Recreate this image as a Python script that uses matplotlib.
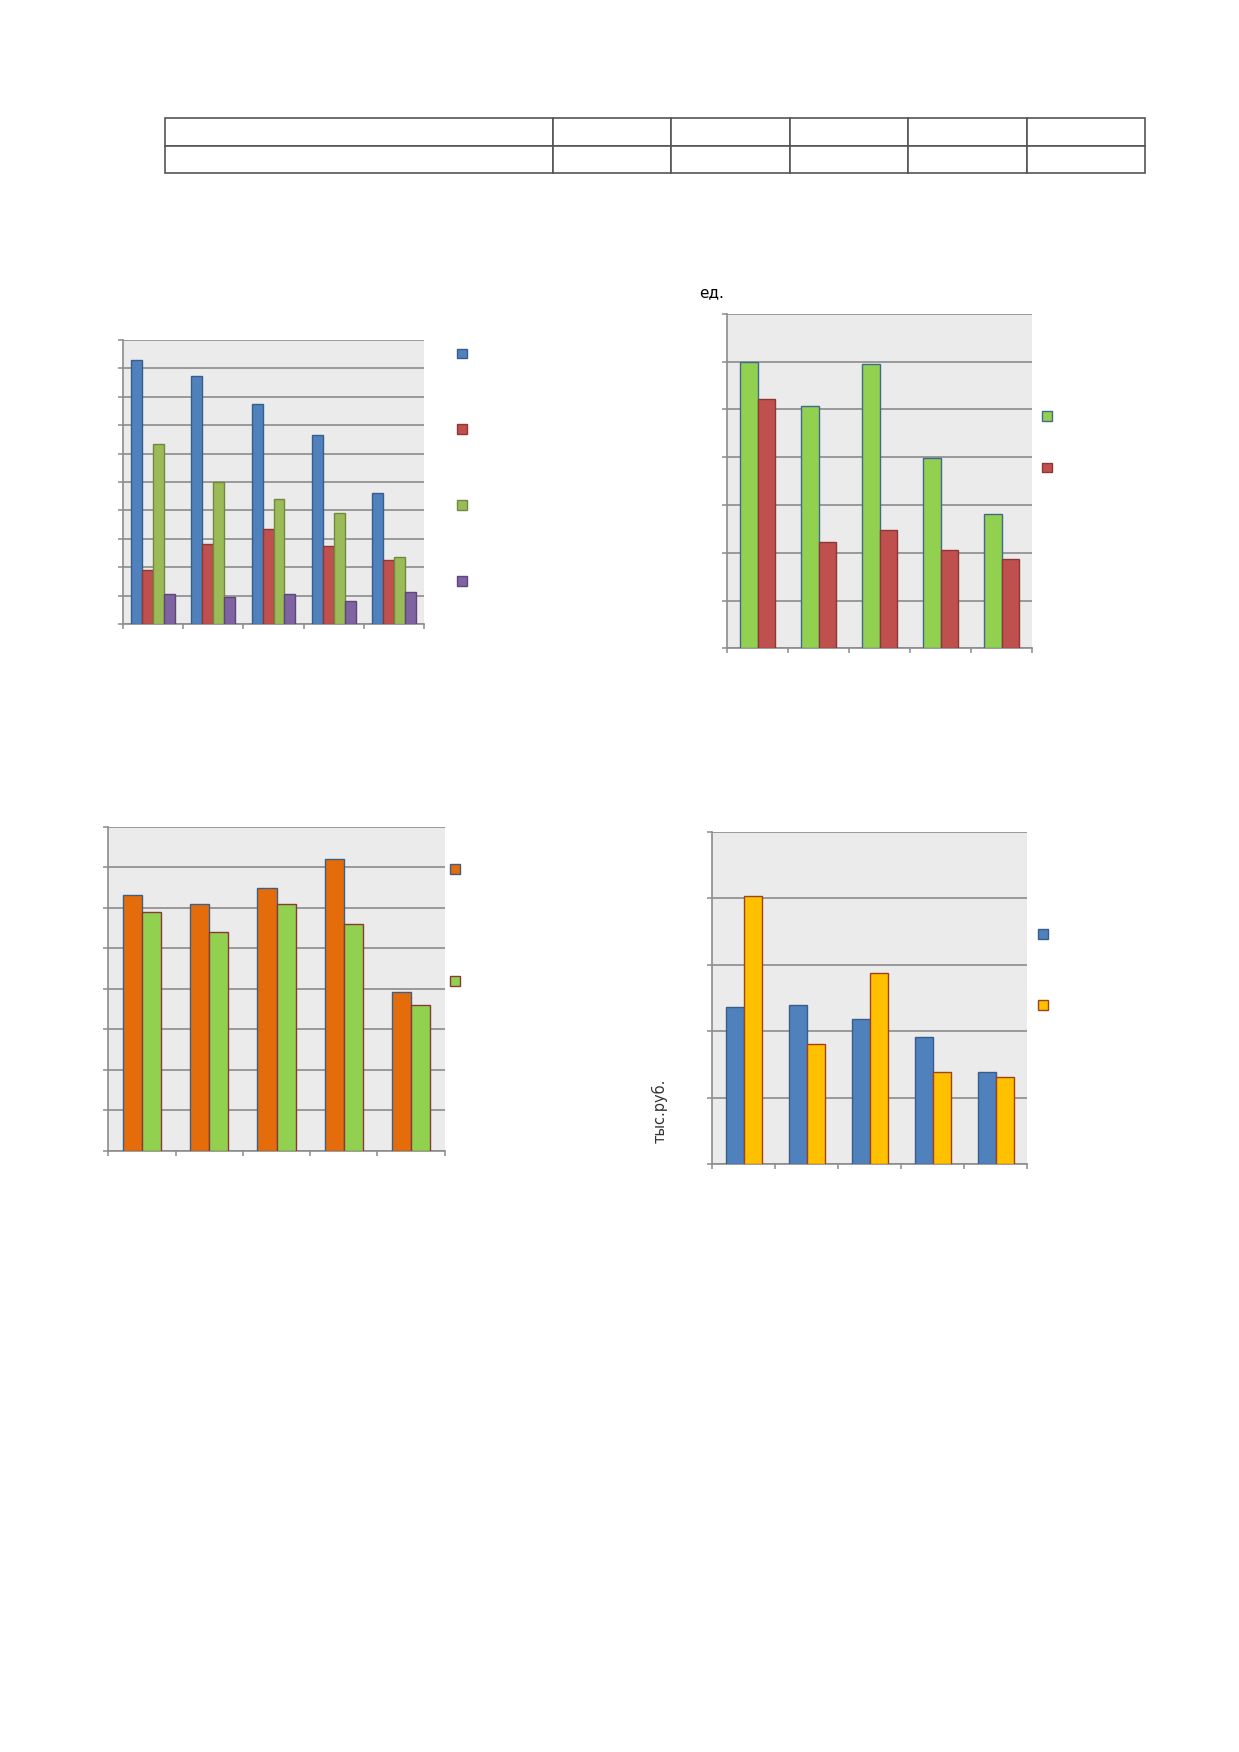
import numpy as np
import matplotlib
matplotlib.use("Agg")
import matplotlib.pyplot as plt
from matplotlib.patches import Patch

plt.rcParams['font.family'] = ['DejaVu Sans']

W, H = 1239, 1752

# chart 1: four series, five categories
c1_s1 = [9.30, 8.74, 7.75, 6.64, 4.60]
c1_s2 = [1.90, 2.81, 3.35, 2.75, 2.25]
c1_s3 = [6.35, 4.99, 4.40, 3.90, 2.35]
c1_s4 = [1.04, 0.96, 1.04, 0.80, 1.14]

# chart 2 (ед.)
c2_s1 = [5.98, 5.06, 5.95, 3.99, 2.80]
c2_s2 = [5.21, 2.22, 2.47, 2.05, 1.87]

# chart 3
c3_s1 = [6.31, 6.10, 6.50, 7.20, 3.91]
c3_s2 = [5.90, 5.41, 6.10, 5.61, 3.61]

# chart 4 (тыс.руб.)
c4_s1 = [2.37, 2.39, 2.19, 1.91, 1.39]
c4_s2 = [4.04, 1.80, 2.87, 1.38, 1.31]

legend_labels_blank = ' '

fig = plt.figure(figsize=(W / 100, H / 100), dpi=100)
fig.patch.set_facecolor('white')


def px_axes(l, t, r, b):
    return fig.add_axes([l / W, 1 - b / H, (r - l) / W, (b - t) / H])


def bar_chart(ax, series, fills, edges, ymax, leg_x, leg_y, leg_space):
    n = len(series)
    w = 1.0 / (n + 1.5)
    x = np.arange(len(series[0]))
    handles = []
    for i, (vals, fc, ec) in enumerate(zip(series, fills, edges)):
        ax.bar(x + (i - (n - 1) / 2) * w, vals, width=w, color=fc,
               edgecolor=ec, linewidth=1.0, zorder=3)
        handles.append(Patch(facecolor=fc, edgecolor=ec, linewidth=1.0))
    ax.set_xlim(-0.5, len(x) - 0.5)
    ax.set_ylim(0, ymax)
    ax.set_facecolor('#EBEBEB')
    ax.set_yticks(np.arange(0, ymax + 1))
    ax.set_xticks(np.arange(-0.5, len(x)))
    ax.set_xticklabels([])
    ax.set_yticklabels([])
    ax.grid(axis='y', color='#8C8C8C', linewidth=1.2, zorder=1)
    ax.set_axisbelow(True)
    for s in ['top', 'right']:
        ax.spines[s].set_visible(False)
    for s in ['left', 'bottom']:
        ax.spines[s].set_color('#8C8C8C')
        ax.spines[s].set_linewidth(1.2)
    ax.tick_params(direction='out', length=3.6, width=1.1, color='#8C8C8C')
    fig.legend(handles, [legend_labels_blank] * n, loc='center left',
               bbox_to_anchor=(leg_x / W, 1 - leg_y / H), frameon=False,
               handlelength=0.7, handleheight=0.7, fontsize=10,
               borderpad=0, borderaxespad=0, labelspacing=leg_space)


ax1 = px_axes(122.7, 340, 424.3, 624)
bar_chart(ax1, [c1_s1, c1_s2, c1_s3, c1_s4],
          ['#4F81BD', '#C0504D', '#9BBB59', '#8064A2'],
          ['#385D8A', '#8C3836', '#71893F', '#5C4776'],
          10, 457, 468, 4.45)

ax2 = px_axes(727.3, 313.7, 1032.3, 648.3)
bar_chart(ax2, [c2_s1, c2_s2],
          ['#92D050', '#C0504D'],
          ['#41698F', '#8C3836'],
          7, 1042, 442.5, 2.7)
fig.text(699 / W, 1 - 293 / H, 'ед.', fontsize=11, ha='left', va='center',
         color='black')

ax3 = px_axes(108.3, 827, 444.7, 1150.7)
bar_chart(ax3, [c3_s1, c3_s2],
          ['#E46C0A', '#92D050'],
          ['#3C5F84', '#8C3836'],
          8, 450, 926, 7.05)

ax4 = px_axes(712.3, 832, 1027, 1164)
bar_chart(ax4, [c4_s1, c4_s2],
          ['#4F81BD', '#FFC000'],
          ['#385D8A', '#A0401E'],
          5, 1038, 970.5, 4.1)
fig.text(660 / W, 1 - 1111 / H, 'тыс.руб.', fontsize=10.5, rotation=90,
         ha='center', va='center', color='#333333')

# empty header table
axt = px_axes(165, 118.3, 1145.3, 173)
axt.axis('off')
col_w = [388, 118.7, 118.7, 118.7, 118.7, 118.5]
tbl = axt.table(cellText=[[''] * 6, [''] * 6], colWidths=[c / sum(col_w) for c in col_w],
                bbox=[0, 0, 1, 1])
for cell in tbl.get_celld().values():
    cell.set_edgecolor('#555555')
    cell.set_linewidth(1.2)

fig.savefig('out.png', dpi=100, facecolor='white')
